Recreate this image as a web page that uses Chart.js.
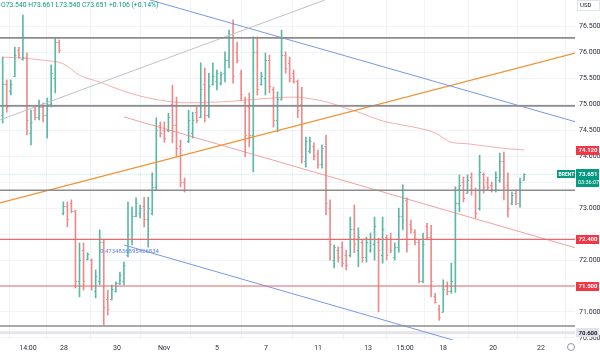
<!DOCTYPE html>
<html><head><meta charset="utf-8">
<script src="https://cdn.jsdelivr.net/npm/chart.js@4.4.1/dist/chart.umd.min.js"></script>
<style>html,body{margin:0;padding:0;background:#fff;overflow:hidden}canvas{display:block}</style>
</head><body>
<canvas id="c" width="600" height="354"></canvas>
<script>
// ---- OHLC series (4h bars, Brent) ----
const opens  = [74.80,75.40,75.25,75.55,76.05,75.87,75.90,74.45,74.90,74.75,74.95,74.80,75.00,75.50,76.20,
72.90,73.05,73.10,72.95,71.60,72.20,72.02,72.00,71.40,71.60,72.35,71.25,71.25,71.40,71.55,71.60,72.10,72.40,72.85,72.90,73.05,72.80,72.90,73.40,74.60,74.50,74.50,75.00,74.60,74.20,73.50,
74.30,74.45,74.85,74.75,75.40,74.80,75.40,75.45,75.42,75.60,75.85,76.30,76.00,75.60,75.05,74.95,74.40,76.00,75.40,75.50,75.85,75.30,74.70,75.10,75.95,75.80,75.60,75.45,75.00,73.90,74.10,74.20,74.05,73.85,74.20,
73.00,72.00,72.20,72.25,72.10,72.10,72.60,72.20,72.35,72.05,72.20,72.30,72.35,72.10,72.45,72.40,72.05,72.25,72.85,73.15,72.70,72.55,72.35,71.60,72.65,72.45,71.30,71.05,71.00,71.50,71.40,71.50,
73.10,73.50,73.30,73.60,73.35,73.00,73.65,73.50,73.45,73.35,73.55,73.90,73.45,73.10,73.30,73.10,73.540];
const highs  = [75.91,75.47,75.47,76.10,76.10,76.72,75.99,74.89,74.95,75.08,75.03,75.12,75.76,76.28,76.24,
73.12,73.12,73.16,72.96,72.33,72.33,72.14,72.02,71.81,72.58,72.40,71.42,71.52,71.58,71.77,71.96,73.12,73.02,73.20,73.06,73.21,73.21,73.68,74.74,74.66,74.66,74.83,75.37,75.14,74.31,73.58,
74.89,74.85,74.95,75.80,75.70,75.60,75.80,75.66,75.62,76.01,76.43,76.63,76.20,75.66,75.14,75.22,76.30,76.30,75.62,75.99,75.95,75.33,75.24,76.43,76.01,75.91,75.66,75.47,75.33,74.37,74.37,74.26,74.12,74.22,74.41,
73.16,72.29,72.25,72.35,72.19,72.83,73.06,72.62,72.39,72.44,72.52,72.83,72.42,72.83,72.48,72.52,72.33,73.00,73.45,73.20,72.77,72.58,72.39,72.52,72.71,72.67,71.36,71.13,71.62,71.58,71.94,73.41,
73.64,73.60,73.64,73.68,73.39,74.02,73.68,73.60,73.50,73.70,74.06,74.08,73.68,73.31,73.35,73.58,73.661];
const lows   = [74.64,74.85,75.18,75.53,75.89,75.85,74.41,74.22,74.70,74.70,74.66,74.35,74.95,75.22,75.99,
72.87,72.64,72.91,71.46,71.29,71.42,72.00,71.42,71.27,71.52,70.75,70.94,71.23,71.38,71.52,71.52,72.06,72.29,72.83,72.81,72.64,72.25,72.87,73.35,74.37,74.27,74.47,74.26,73.99,73.41,73.31,
74.26,74.35,74.64,74.74,74.66,74.74,75.37,75.28,75.37,75.43,75.70,75.41,75.80,75.08,73.99,74.18,73.70,75.18,75.37,75.18,75.22,74.56,74.47,75.08,75.60,75.43,75.41,74.74,73.87,73.79,74.06,73.93,73.77,73.77,72.87,
72.00,71.85,71.96,71.87,71.81,72.06,72.14,71.87,71.96,71.96,72.15,72.00,71.00,71.94,72.00,72.14,72.00,72.15,72.58,72.15,72.52,72.29,71.56,71.56,72.39,71.29,71.17,70.84,71.00,71.33,71.36,71.38,
72.93,73.12,73.29,73.25,72.81,72.96,73.29,73.35,73.31,73.31,73.50,73.16,72.83,73.06,73.06,73.02,73.540];
const closes = [75.40,74.95,75.40,75.95,75.92,75.92,74.70,74.66,74.75,74.95,74.80,75.00,75.60,76.20,76.05,
73.05,72.80,72.95,71.60,72.00,71.60,72.12,71.50,71.70,72.35,71.10,71.05,71.45,71.55,71.72,71.90,72.50,72.85,73.10,73.00,72.80,73.00,73.40,74.50,74.45,74.35,74.75,74.60,74.15,73.50,73.35,
74.70,74.70,74.70,75.30,74.80,75.35,75.55,75.60,75.58,75.85,76.30,75.55,75.85,75.20,74.40,74.40,76.00,75.30,75.55,75.85,75.35,74.70,75.10,75.95,75.70,75.50,75.45,74.90,74.00,74.30,74.30,74.00,73.85,74.15,73.10,
72.30,72.25,72.05,71.95,71.90,72.60,72.30,72.45,72.05,72.35,72.40,72.65,72.20,72.60,72.10,72.20,72.25,72.85,73.20,72.30,72.60,72.35,71.60,72.30,72.45,71.60,71.20,70.90,71.45,71.40,71.60,73.10,
73.45,73.20,73.55,73.35,72.90,73.70,73.40,73.40,73.35,73.60,73.90,73.40,73.00,73.25,73.10,73.50,73.651];

// ---- moving average (sampled along the curve) ----
const maIndex  = [0,5,10,15,19,24,29,34,39,45,55,63,72,75,80,84,88,94,99,103,107,111,115,119,123,129];
const maValues = [75.91,75.89,75.85,75.78,75.56,75.43,75.28,75.16,75.08,75.03,75.05,75.10,75.14,75.12,75.05,74.95,74.85,74.68,74.60,74.54,74.45,74.27,74.24,74.20,74.16,74.12];

// ---- drawings: horizontal levels and trend lines (index, price) ----
const grayLevels  = [76.28, 74.97, 73.344, 70.73];
const redLevels   = [72.4, 71.5];
const lightLevels = [70.6];
const trendGray   = [[-0.67,74.70],[79.75,77.011]];
const trendBlueUp = [[36.45,77.011],[141.87,74.66]];
const trendOrange = [[-0.67,73.10],[141.87,75.99]];
const trendPink   = [[30.02,74.757],[141.87,72.232]];
const trendBlueLo = [[30.02,72.29],[115.64,70.364]];
const blueLabel   = {text:'0.4734836895426834', x:24.08, y:72.156};

// ---- axis ticks ----
const xTickPos    = [6.26,15.17,28.29,39.92,53.03,65.16,78.03,90.4,99.55,108.96,121.33,133.2];
const xTickLabels = ['14:00','28','30','Nov','5','7','11','13','15:00','18','20','22'];
const yTickValues = [70.5,71,71.5,72,72.5,73,73.5,74,74.5,75,75.5,76,76.5];
const yTickLabels = ['70.500','71.000','','72.000','','73.000','','74.000','74.500','75.000','75.500','76.000','76.500'];

const X_MIN = -0.668, X_MAX = 141.6, Y_MIN = 70.46, Y_MAX = 77.01;
const UP = '#5cb9a6', DOWN = '#f08a8a';
const FONT = 'Roboto, "Liberation Sans", sans-serif';

const idx = opens.map((_, i) => i);
const barColors = idx.map(i => closes[i] >= opens[i] ? UP : DOWN);

function seg(pts){ return pts.map(p => ({x:p[0], y:p[1]})); }
function hline(v){ return [{x:X_MIN-5, y:v},{x:X_MAX+5, y:v}]; }
function lineDs(data, color, width, order, dash){
  return {type:'line', data, borderColor:color, borderWidth:width, pointRadius:0, fill:false,
          order, borderDash:dash||[], tension:0};
}

const datasets = [
  {type:'bar', data: idx.map(i => ({x:i, y:[lows[i], highs[i]]})), backgroundColor: barColors,
   borderWidth:0, barThickness:1, order:20},
  {type:'line', data: maIndex.map((v,k)=>({x:v, y:maValues[k]})), borderColor:'rgba(240,120,120,0.6)',
   borderWidth:1, pointRadius:0, cubicInterpolationMode:'monotone', order:15},
  lineDs(hline(closes[closes.length-1]), 'rgba(8,153,129,0.25)', 1, 16, [1,1]),
  ...lightLevels.map(v => lineDs(hline(v), '#e3e5ea', 3, 12)),
  ...grayLevels.map(v => lineDs(hline(v), '#8c8c8c', 1.6, 5)),
  ...redLevels.map(v => lineDs(hline(v), '#e86a6a', 1.2, 5)),
  lineDs(seg(trendGray), '#bfc1c7', 1, 6),
  lineDs(seg(trendBlueUp), '#7b96ea', 1, 6),
  lineDs(seg(trendOrange), '#f0922f', 1.2, 6),
  lineDs(seg(trendPink), 'rgba(240,120,120,0.7)', 1, 6),
  lineDs(seg(trendBlueLo), '#7b96ea', 1, 6),
];

const ohlcTicks = {
  id:'ohlcTicks',
  afterDatasetDraw(chart, args){
    if (args.index !== 0) return;
    const {ctx, chartArea:a, scales:{x, y}} = chart;
    ctx.save();
    ctx.beginPath(); ctx.rect(a.left, a.top, a.right-a.left, a.bottom-a.top); ctx.clip();
    ctx.lineWidth = 1;
    idx.forEach(i => {
      const px = x.getPixelForValue(i);
      ctx.strokeStyle = barColors[i];
      const yo = Math.round(y.getPixelForValue(opens[i])) + 0.5;
      const yc = Math.round(y.getPixelForValue(closes[i])) + 0.5;
      ctx.beginPath();
      ctx.moveTo(px-1.6, yo); ctx.lineTo(px, yo);
      ctx.moveTo(px, yc); ctx.lineTo(px+1.6, yc);
      ctx.stroke();
    });
    ctx.restore();
  }
};

function priceBox(ctx, yPix, text, bg, fg, x0){
  ctx.fillStyle = bg;
  ctx.fillRect(x0, Math.round(yPix-4.5), 600-x0-1, 9);
  ctx.fillStyle = fg;
  ctx.font = 'bold 6px ' + FONT;
  ctx.textAlign = 'left'; ctx.textBaseline = 'middle';
  ctx.fillText(text, x0+2.5, yPix+0.5);
}

const overlay = {
  id:'overlay',
  afterDraw(chart){
    const {ctx, chartArea:a, scales:{x, y}} = chart;
    ctx.save();
    // blue drawing label
    ctx.font = '6px ' + FONT; ctx.fillStyle = '#5f7fe6';
    ctx.textAlign = 'left'; ctx.textBaseline = 'middle';
    ctx.fillText(blueLabel.text, x.getPixelForValue(blueLabel.x), y.getPixelForValue(blueLabel.y));
    // legend
    ctx.font = '6.8px ' + FONT; ctx.fillStyle = '#089981'; ctx.textBaseline = 'middle';
    const o = opens.at(-1), h = highs.at(-1), l = lows.at(-1), c = closes.at(-1);
    ctx.fillText('O' + o.toFixed(3) + ' H' + h.toFixed(3) + ' L' + l.toFixed(3) + ' C' + c.toFixed(3) +
      ' +0.106 (+0.14%)', 1, 5);
    // USD box
    ctx.strokeStyle = '#e0e3eb'; ctx.lineWidth = 1;
    ctx.strokeRect(577.5, 0.5, 22, 10);
    ctx.fillStyle = '#131722'; ctx.font = '6px ' + FONT;
    ctx.fillText('USD', 580, 5.5);
    // price labels
    const right = a.right + 1;
    priceBox(ctx, y.getPixelForValue(maValues.at(-1)), maValues.at(-1).toFixed(3), '#f23645', '#fff', right);
    priceBox(ctx, y.getPixelForValue(redLevels[0]), redLevels[0].toFixed(3), '#f23645', '#fff', right);
    priceBox(ctx, y.getPixelForValue(redLevels[1]), redLevels[1].toFixed(3), '#f23645', '#fff', right);
    priceBox(ctx, y.getPixelForValue(lightLevels[0]), lightLevels[0].toFixed(3), '#e0e3eb', '#131722', right);
    // current price
    const yc = y.getPixelForValue(c);
    ctx.fillStyle = '#089981';
    ctx.fillRect(right, Math.round(yc-5), 600-right-1, 18);
    ctx.fillStyle = '#fff'; ctx.font = 'bold 6px ' + FONT;
    ctx.fillText(c.toFixed(3), right+2.5, yc);
    ctx.font = '5.5px ' + FONT;
    ctx.fillText('03:36:07', right+2, yc+8);
    ctx.fillStyle = '#089981';
    ctx.fillRect(557, Math.round(yc-4), 18, 8);
    ctx.fillStyle = '#fff'; ctx.font = 'bold 5px ' + FONT;
    ctx.fillText('BRENT', 558.5, yc+0.5);
    // settings circle
    ctx.strokeStyle = '#787b86'; ctx.lineWidth = 0.8;
    ctx.beginPath(); ctx.arc(571, 347, 3.5, 0, Math.PI*2); ctx.stroke();
    ctx.restore();
  }
};

new Chart(document.getElementById('c'), {
  type:'bar',
  data:{datasets},
  options:{
    responsive:false, animation:false, events:[],
    layout:{padding:0},
    plugins:{legend:{display:false}, tooltip:{enabled:false}},
    scales:{
      x:{type:'linear', min:X_MIN, max:X_MAX, offset:false,
         afterBuildTicks(s){ s.ticks = xTickPos.map(v => ({value:v})); },
         afterFit(s){ s.height = 14; s.paddingLeft = 0; s.paddingRight = 0; },
         grid:{color:'#f0f3fa', drawTicks:false}, border:{display:false},
         ticks:{autoSkip:false, maxRotation:0, padding:4, color:'#2a2e39', font:{size:7, family:FONT},
                callback(v, i){ return xTickLabels[i]; }}},
      y:{type:'linear', position:'right', min:Y_MIN, max:Y_MAX,
         afterBuildTicks(s){ s.ticks = yTickValues.map(v => ({value:v})); },
         afterFit(s){ s.width = 25; s.paddingTop = 0; s.paddingBottom = 0; },
         grid:{color:'#f0f3fa', drawTicks:false}, border:{display:false},
         ticks:{autoSkip:false, padding:4, color:'#2a2e39', font:{size:7, family:FONT},
                callback(v, i){ return yTickLabels[i]; }}}
    }
  },
  plugins:[ohlcTicks, overlay]
});
</script>
</body></html>
